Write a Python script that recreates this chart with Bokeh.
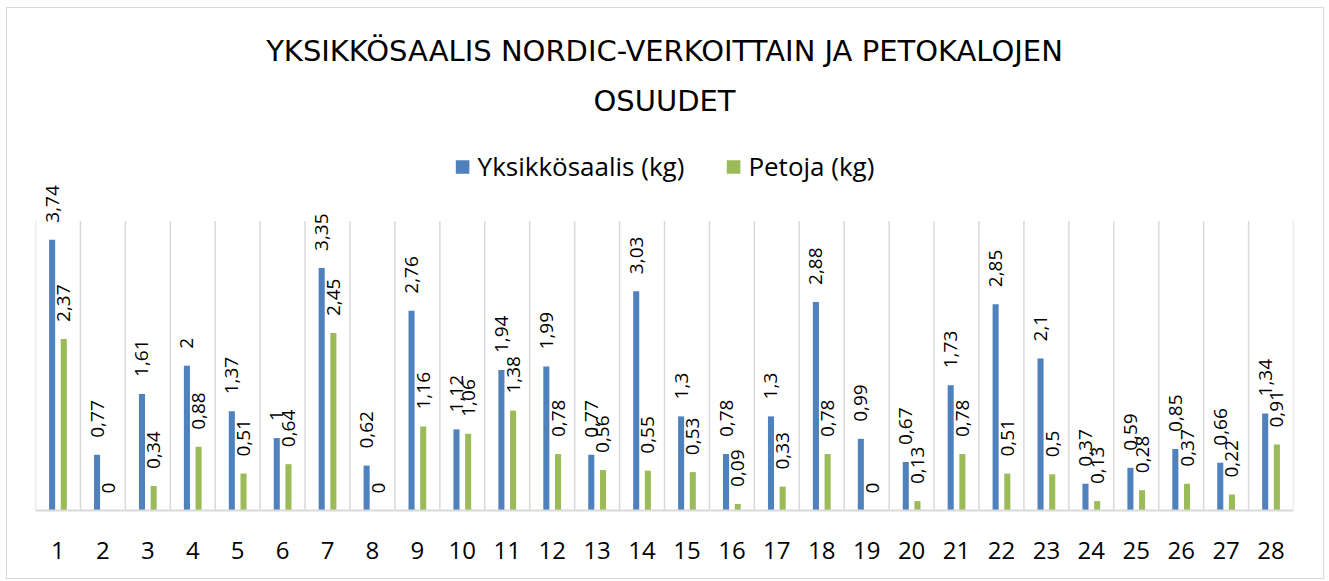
import math
from bokeh.plotting import figure
from bokeh.models import Range1d, FixedTicker, Title, Legend, LegendItem, ColumnDataSource
from bokeh.core.properties import value
from bokeh.embed import file_html
from bokeh.resources import INLINE

categories = list(range(1, 29))
yksikkosaalis = [3.74, 0.77, 1.61, 2, 1.37, 1, 3.35, 0.62, 2.76, 1.12, 1.94, 1.99, 0.77, 3.03,
                 1.3, 0.78, 1.3, 2.88, 0.99, 0.67, 1.73, 2.85, 2.1, 0.37, 0.59, 0.85, 0.66, 1.34]
petoja = [2.37, 0, 0.34, 0.88, 0.51, 0.64, 2.45, 0, 1.16, 1.06, 1.38, 0.78, 0.56, 0.55,
          0.53, 0.09, 0.33, 0.78, 0, 0.13, 0.78, 0.51, 0.5, 0.13, 0.28, 0.37, 0.22, 0.91]
series_names = ["Yksikkösaalis (kg)", "Petoja (kg)"]
title_lines = ["YKSIKKÖSAALIS NORDIC-VERKOITTAIN JA PETOKALOJEN", "OSUUDET"]

BLUE = "#4f81bd"
GREEN = "#9bbb59"
GRID = "#d9d9d9"
FONT = "Open Sans"
TFONT = "DejaVu Sans"
OFF = 0.13
BW = 0.135
GRID_TOP = 4.0

def fmt(v):
    return f"{v:g}".replace(".", ",")

p = figure(width=1316, height=570, output_backend="svg", toolbar_location=None,
           x_range=Range1d(0.5, len(categories) + 0.5), y_range=Range1d(0, 5.0),
           min_border_left=28, min_border_right=30, min_border_top=140, min_border_bottom=68,
           title=None)
p.margin = (8, 0, 0, 7)
p.styles = {"outline": "1px solid #d9d9d9"}
p.outline_line_color = None
p.ygrid.visible = False
p.xgrid.visible = False
p.yaxis.visible = False

# category separator lines
bounds = [c - 0.5 for c in categories] + [categories[-1] + 0.5]
p.segment(x0=bounds, y0=[0] * len(bounds), x1=bounds, y1=[GRID_TOP] * len(bounds),
          line_color=GRID, line_width=1.5)

src = ColumnDataSource(dict(
    x=categories,
    xb=[c - OFF for c in categories],
    xg=[c + OFF for c in categories],
    b=yksikkosaalis, g=petoja,
    bl=[fmt(v) for v in yksikkosaalis], gl=[fmt(v) for v in petoja],
))

rb = p.vbar(x="xb", top="b", width=BW, source=src, fill_color=BLUE, line_color=None)
rg = p.vbar(x="xg", top="g", width=BW, source=src, fill_color=GREEN, line_color=None)

for xcol, ycol, tcol in (("xb", "b", "bl"), ("xg", "g", "gl")):
    p.text(x=xcol, y=ycol, text=tcol, source=src, angle=math.pi / 2,
           text_align="left", text_baseline="middle", y_offset=-17,
           text_font=value(FONT), text_font_size="19px", text_color="#000000")

p.xaxis.ticker = FixedTicker(ticks=categories)
p.xaxis.major_tick_line_color = None
p.xaxis.minor_tick_line_color = None
p.xaxis.axis_line_color = GRID
p.xaxis.axis_line_width = 2
p.xaxis.major_label_standoff = 25
p.xaxis.major_label_text_font = FONT
p.xaxis.major_label_text_font_size = "24px"
p.xaxis.major_label_text_color = "#000000"

legend = Legend(items=[LegendItem(label=series_names[0], renderers=[rb]),
                       LegendItem(label=series_names[1], renderers=[rg])],
                orientation="horizontal", location="top_center",
                label_text_font=FONT, label_text_font_size="26px", label_text_color="#000000",
                glyph_width=17, glyph_height=17, label_standoff=7, spacing=40,
                border_line_color=None, background_fill_alpha=0, margin=0, padding=0)
p.add_layout(legend)

p.add_layout(Title(text=title_lines[1], align="center", text_font=TFONT, text_font_size="29px",
                   text_font_style="normal", text_color="#000000", standoff=62), "above")
p.add_layout(Title(text=title_lines[0], align="center", text_font=TFONT, text_font_size="29px",
                   text_font_style="normal", text_color="#000000", standoff=-34), "above")

open("out.html", "w").write(file_html(p, INLINE))
